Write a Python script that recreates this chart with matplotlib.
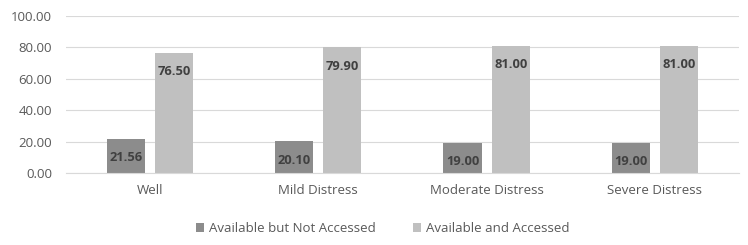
import matplotlib.pyplot as plt
import numpy as np

plt.rcParams['font.family'] = ['Open Sans', 'DejaVu Sans']

# 数据
categories = ['Well', 'Mild Distress', 'Moderate Distress', 'Severe Distress']
not_accessed = [21.56, 20.10, 19.00, 19.00]
accessed = [76.50, 79.90, 81.00, 81.00]
series_names = ['Available but Not Accessed', 'Available and Accessed']

fig = plt.figure(figsize=(7.48, 2.45), dpi=100)
ax = fig.add_axes([0.088, 0.294, 0.900, 0.641])

x = np.arange(len(categories))
w = 0.226
off = 0.143
b1 = ax.bar(x - off, not_accessed, w, color='#8c8c8c', label=series_names[0], zorder=2)
b2 = ax.bar(x + off, accessed, w, color='#c0c0c0', label=series_names[1], zorder=2)

# 数值标签放在柱子顶部内侧
for bars, vals in [(b1, not_accessed), (b2, accessed)]:
    for rect, v in zip(bars, vals):
        ax.annotate(f'{v:.2f}', (rect.get_x() + rect.get_width() / 2, v),
                    xytext=(0, -13.5), textcoords='offset points',
                    ha='center', va='center', fontsize=9.3, fontweight='bold',
                    color='#404040')

ax.set_xlim(-0.5, len(categories) - 0.5)
ax.set_ylim(0, 100)
ax.set_yticks(np.arange(0, 101, 20))
ax.set_yticklabels([f'{t:.2f}' for t in np.arange(0, 101, 20)])
ax.set_xticks(x)
ax.set_xticklabels(categories)
ax.tick_params(axis='both', length=0, labelsize=9.5, colors='#595959')
ax.tick_params(axis='x', pad=8)
ax.tick_params(axis='y', pad=10)
ax.yaxis.grid(True, color='#d9d9d9', linewidth=0.8, zorder=0)
ax.set_axisbelow(True)
for s in ['top', 'right', 'left']:
    ax.spines[s].set_visible(False)
ax.spines['bottom'].set_color('#d9d9d9')

fig.legend(loc='lower center', ncol=2, frameon=False, fontsize=9.5,
           bbox_to_anchor=(0.512, -0.008), handlelength=0.6, handleheight=0.6,
           columnspacing=2.8, handletextpad=0.4, labelcolor='#595959')

fig.savefig('out.png', dpi=100)
